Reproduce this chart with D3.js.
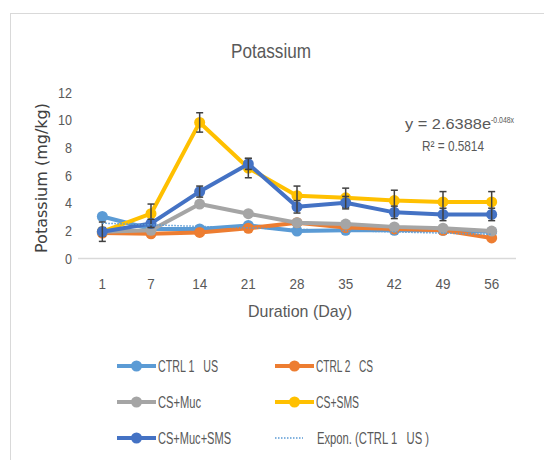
<!DOCTYPE html>
<html lang="en">
<head>
<meta charset="utf-8">
<title>Potassium</title>
<script src="https://cdn.jsdelivr.net/npm/d3@7"></script>
<style>
  body { margin: 0; background: #fff; }
  text { font-family: "Liberation Sans", Arial, sans-serif; }
</style>
</head>
<body>
<script>
// data
var days = ["1", "7", "14", "21", "28", "35", "42", "49", "56"];
var ctrl1 = [3.0, 2.1, 2.1, 2.35, 1.95, 2.0, 2.0, 2.0, 1.9];
var ctrl2 = [1.8, 1.75, 1.85, 2.15, 2.55, 2.2, 2.1, 2.0, 1.45];
var csMuc = [1.9, 2.0, 3.9, 3.2, 2.55, 2.45, 2.25, 2.15, 1.95];
var csSms = [1.9, 3.2, 9.8, 6.5, 4.5, 4.35, 4.15, 4.05, 4.05];
var csMucSms = [1.9, 2.5, 4.8, 6.8, 3.7, 4.0, 3.3, 3.15, 3.15];
var errSms = [0.3, 0.7, 0.7, 0.7, 0.7, 0.7, 0.75, 0.75, 0.75];
var errMucSms = [0.7, 0.3, 0.4, 0.4, 0.45, 0.45, 0.45, 0.45, 0.45];
var yTicks = [0, 2, 4, 6, 8, 10, 12];
// trend line shown in the chart: y = 2.6388e^(-0.048x)
var trendA = 2.6388, trendB = -0.048;

var series = [
  {name: "CTRL 1   US", values: ctrl1, color: "#5b9bd5", err: null, w: 60},
  {name: "CTRL 2   CS", values: ctrl2, color: "#ed7d31", err: null, w: 57},
  {name: "CS+Muc", values: csMuc, color: "#a5a5a5", err: null, w: 43},
  {name: "CS+SMS", values: csSms, color: "#ffc000", err: errSms, w: 43},
  {name: "CS+Muc+SMS", values: csMucSms, color: "#4472c4", err: errMucSms, w: 73}
];

var W = 544, H = 460;
var svg = d3.select("body").append("svg").attr("width", W).attr("height", H);

// narrow text: squeeze glyphs to the width they take in the picture
function narrow(sel, w) {
  sel.attr("textLength", w).attr("lengthAdjust", "spacingAndGlyphs");
}

// chart border
svg.append("rect").attr("x", 10.5).attr("y", 13.5).attr("width", 600).attr("height", 500)
  .attr("fill", "none").attr("stroke", "#d9d9d9");

svg.append("text").attr("x", 231).attr("y", 58)
  .attr("font-size", 21).attr("fill", "#595959").text("Potassium").call(narrow, 80);

var x = d3.scaleBand().domain(days).range([78, 516]);
var y = d3.scaleLinear().domain([0, 12]).range([258, 92]);
var cx = function(i) { return x(days[i]) + x.bandwidth() / 2; };

// axis line
svg.append("line").attr("x1", 78).attr("x2", 516).attr("y1", 258.5).attr("y2", 258.5)
  .attr("stroke", "#d9d9d9").attr("stroke-width", 1.5);

// y tick labels
svg.selectAll(".ytick").data(yTicks).enter().append("text")
  .attr("x", 72).attr("y", function(d) { return y(d) + 5.5; })
  .attr("text-anchor", "end").attr("font-size", 15).attr("fill", "#595959")
  .text(function(d) { return d; })
  .each(function(d) { d3.select(this).call(narrow, String(d).length * 7); });

// x tick labels
svg.selectAll(".xtick").data(days).enter().append("text")
  .attr("x", function(d) { return x(d) + x.bandwidth() / 2; }).attr("y", 289)
  .attr("text-anchor", "middle").attr("font-size", 15).attr("fill", "#595959")
  .text(function(d) { return d; })
  .each(function(d) { d3.select(this).call(narrow, d.length * 7.5); });

svg.append("text").attr("transform", "translate(47,178) rotate(-90)")
  .attr("text-anchor", "middle").attr("font-size", 16).attr("fill", "#404040")
  .style("font-family", "DejaVu Sans, sans-serif")
  .text("Potassium (mg/kg)");

svg.append("text").attr("x", 248).attr("y", 317)
  .attr("font-size", 17).attr("fill", "#595959").text("Duration (Day)").call(narrow, 104);

var line = d3.line().x(function(d, i) { return cx(i); }).y(function(d) { return y(d); });

series.forEach(function(s) {
  var g = svg.append("g");
  g.append("path").datum(s.values).attr("d", line)
    .attr("fill", "none").attr("stroke", s.color).attr("stroke-width", 4)
    .attr("stroke-linejoin", "round");
  g.selectAll("circle").data(s.values).enter().append("circle")
    .attr("cx", function(d, i) { return cx(i); }).attr("cy", function(d) { return y(d); })
    .attr("r", 5.5).attr("fill", s.color);
  if (s.err) {
    var eb = g.selectAll(".eb").data(s.values).enter().append("g").attr("stroke", "#404040").attr("stroke-width", 1.5);
    eb.append("line").attr("x1", function(d, i) { return cx(i); }).attr("x2", function(d, i) { return cx(i); })
      .attr("y1", function(d, i) { return y(d - s.err[i]); }).attr("y2", function(d, i) { return y(d + s.err[i]); });
    eb.append("line").attr("x1", function(d, i) { return cx(i) - 3.5; }).attr("x2", function(d, i) { return cx(i) + 3.5; })
      .attr("y1", function(d, i) { return y(d + s.err[i]); }).attr("y2", function(d, i) { return y(d + s.err[i]); });
    eb.append("line").attr("x1", function(d, i) { return cx(i) - 3.5; }).attr("x2", function(d, i) { return cx(i) + 3.5; })
      .attr("y1", function(d, i) { return y(d - s.err[i]); }).attr("y2", function(d, i) { return y(d - s.err[i]); });
  }
});

// exponential trend line of CTRL 1
var trend = d3.range(1, 9.01, 0.25).map(function(k) { return [k, trendA * Math.exp(trendB * k)]; });
var xLin = d3.scaleLinear().domain([1, 9]).range([cx(0), cx(8)]);
svg.append("path").datum(trend)
  .attr("d", d3.line().x(function(d) { return xLin(d[0]); }).y(function(d) { return y(d[1]); }))
  .attr("fill", "none").attr("stroke", "#5b9bd5").attr("stroke-width", 1.5).attr("stroke-dasharray", "1.5,1.5");

// equation
var eq = svg.append("text").attr("x", 405).attr("y", 129).attr("font-size", 15).attr("fill", "#595959")
  .attr("xml:space", "preserve");
eq.append("tspan").text("y = 2.6388e").call(narrow, 86);
eq.append("tspan").attr("dy", -6).attr("font-size", 9).text("-0.048x").call(narrow, 23);
svg.append("text").attr("x", 422).attr("y", 151).attr("font-size", 15).attr("fill", "#595959")
  .attr("xml:space", "preserve").text("R\u00b2 = 0.5814").call(narrow, 62);

// legend
var legendItems = series.map(function(s) { return {name: s.name, color: s.color, trend: false, w: s.w}; });
legendItems.push({name: "Expon. (CTRL 1   US )", color: "#5b9bd5", trend: true, w: 112});
var lg = svg.selectAll(".legend").data(legendItems).enter().append("g")
  .attr("transform", function(d, i) { return "translate(" + (i % 2 ? 275 : 117) + "," + (366 + Math.floor(i / 2) * 36) + ")"; });
lg.append("line").attr("x1", 0).attr("x2", function(d) { return d.trend ? 28 : 39; })
  .attr("stroke", function(d) { return d.color; })
  .attr("stroke-width", function(d) { return d.trend ? 1.5 : 4; })
  .attr("stroke-dasharray", function(d) { return d.trend ? "1.5,1.5" : null; });
lg.filter(function(d) { return !d.trend; }).append("circle").attr("cx", 19.5).attr("r", 5.5)
  .attr("fill", function(d) { return d.color; });
lg.append("text").attr("x", function(d) { return d.trend ? 42 : 41; }).attr("y", 6)
  .attr("font-size", 16).attr("fill", "#595959").attr("xml:space", "preserve")
  .text(function(d) { return d.name; })
  .each(function(d) { d3.select(this).call(narrow, d.w); });
</script>
</body>
</html>
